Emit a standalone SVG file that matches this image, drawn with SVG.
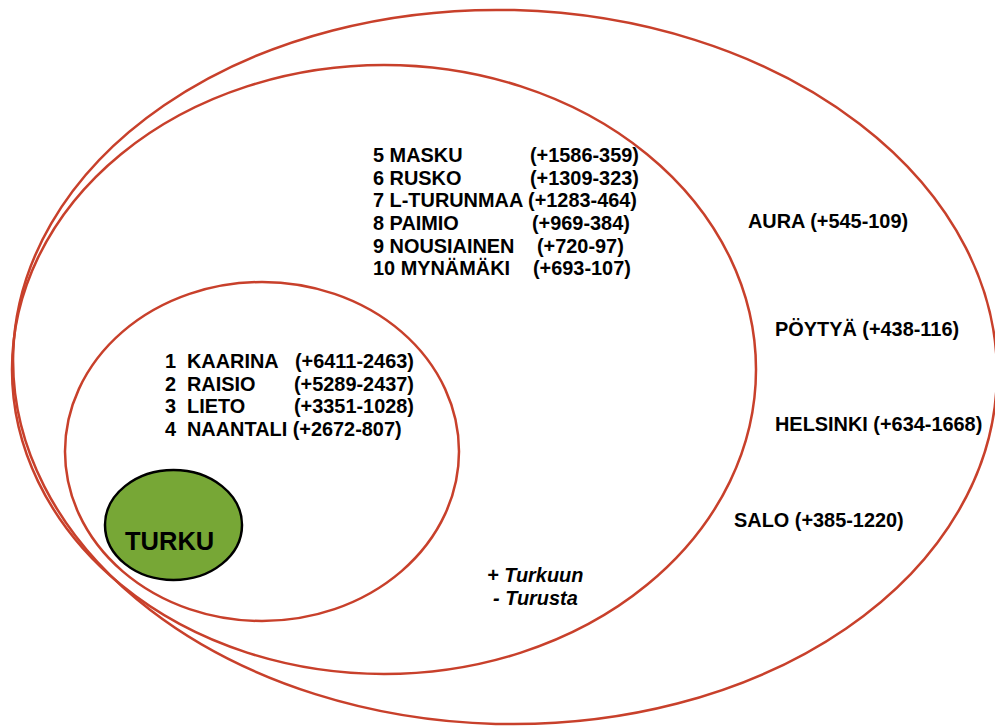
<svg xmlns="http://www.w3.org/2000/svg" width="995" height="726" viewBox="0 0 995 726">
<style>
.ring{fill:none;stroke:#c8402b;stroke-width:2.5}
.t{font-family:"Liberation Sans",Arial,sans-serif;font-weight:bold;font-size:19.9px;fill:#000}
.it{font-style:italic}
</style>
<rect width="995" height="726" fill="#fff"/>
<g id="outer-ring">
<ellipse class="ring" cx="505" cy="367" rx="492" ry="357" transform="rotate(1.5 505 367)"/>
<text class="t" x="748" y="228">AURA (+545-109)</text>
<text class="t" x="775" y="336">PÖYTYÄ (+438-116)</text>
<text class="t" x="775" y="431">HELSINKI (+634-1668)</text>
<text class="t" x="734" y="527">SALO (+385-1220)</text>
</g>
<g id="middle-ring">
<ellipse class="ring" cx="384" cy="369.5" rx="372" ry="304.5"/>
<text class="t" x="373" y="162">5 MASKU</text><text class="t" x="530" y="162">(+1586-359)</text>
<text class="t" x="373" y="184.7">6 RUSKO</text><text class="t" x="530" y="184.7">(+1309-323)</text>
<text class="t" x="373" y="207.3">7 L-TURUNMAA (+1283-464)</text>
<text class="t" x="373" y="230">8 PAIMIO</text><text class="t" x="532" y="230">(+969-384)</text>
<text class="t" x="373" y="252.7">9 NOUSIAINEN</text><text class="t" x="537" y="252.7">(+720-97)</text>
<text class="t" x="373" y="275.3">10 MYNÄMÄKI</text><text class="t" x="533" y="275.3">(+693-107)</text>
<text class="t it" x="487" y="582">+ Turkuun</text>
<text class="t it" x="493" y="605">- Turusta</text>
</g>
<g id="inner-ring">
<ellipse class="ring" cx="262" cy="451.5" rx="197" ry="169.5"/>
<text class="t" x="165" y="368">1</text><text class="t" x="187" y="368">KAARINA</text><text class="t" x="295" y="368">(+6411-2463)</text>
<text class="t" x="165" y="390.7">2</text><text class="t" x="187" y="390.7">RAISIO</text><text class="t" x="294" y="390.7">(+5289-2437)</text>
<text class="t" x="165" y="413.3">3</text><text class="t" x="187" y="413.3">LIETO</text><text class="t" x="294" y="413.3">(+3351-1028)</text>
<text class="t" x="165" y="436">4</text><text class="t" x="187" y="436">NAANTALI (+2672-807)</text>
</g>
<g id="turku">
<ellipse cx="173.5" cy="525" rx="68.5" ry="55" fill="#77a736" stroke="#000" stroke-width="2.5"/>
<text class="t" x="125" y="550" style="font-size:25.5px">TURKU</text>
</g>
</svg>
